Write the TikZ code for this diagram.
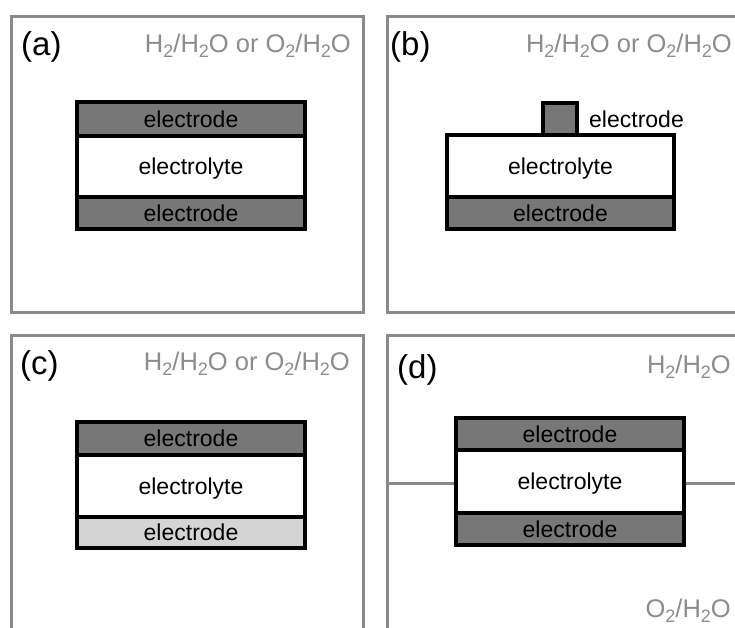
\documentclass[tikz,border=0pt]{standalone}
\usepackage{fontspec}
\setmainfont{Liberation Sans}
\definecolor{panelgray}{HTML}{8A8A8A}
\definecolor{gasgray}{HTML}{8C8C8C}
\definecolor{darkel}{HTML}{777777}
\definecolor{lightel}{HTML}{D4D4D4}
\newcommand{\gsub}[1]{\raisebox{-5pt}{\fontsize{18}{18}\selectfont #1}}
\begin{document}
\begin{tikzpicture}[x=1pt,y=-1pt,
  panel/.style={draw=panelgray, line width=3pt},
  layer/.style={draw=black, line width=3.4pt, inner sep=0pt,
    font=\fontsize{23}{25}\selectfont, text=black,
    text height=16.5pt, text depth=0pt, minimum width=228pt},
  darklayer/.style={layer, fill=darkel},
  lightlayer/.style={layer, fill=lightel},
  elytelayer/.style={layer, fill=white},
  tag/.style={font=\fontsize{33}{35}\selectfont, anchor=base west, inner sep=0pt},
  gas/.style={font=\fontsize{25.5}{27}\selectfont, text=gasgray, anchor=base east, inner sep=0pt},
  plainlabel/.style={font=\fontsize{23}{25}\selectfont, anchor=west, inner sep=0pt, text height=16.5pt, text depth=0pt}
]
\useasboundingbox (0,0) rectangle (735,627);
\clip (0,0) rectangle (735,627);
\fill[white] (0,0) rectangle (735,627);

% panel frames
\draw[panel] (11,16) rectangle (363,312);
\draw[panel] (387,16) rectangle (745,312);
\draw[panel] (11,335) rectangle (363,640);
\draw[panel] (387,335) rectangle (745,640);

% (a)
\node[tag] (ta) at (21,55) {(a)};
\node[gas] (ga) at (351,52) {H\gsub{2}/H\gsub{2}O or O\gsub{2}/H\gsub{2}O};
\node[elytelayer, minimum height=61pt] (a2) at (191,166.5) {electrolyte};
\node[darklayer, minimum height=34pt] (a1) at (191,119) {electrode};
\node[darklayer, minimum height=32pt] (a3) at (191,213) {electrode};

% (b)
\node[tag] (tb) at (390,55) {(b)};
\node[gas] (gb) at (732,52) {H\gsub{2}/H\gsub{2}O or O\gsub{2}/H\gsub{2}O};
\node[elytelayer, minimum width=227pt, minimum height=62pt] (b2) at (560.5,166) {electrolyte};
\node[darklayer, minimum width=227pt, minimum height=32pt] (b3) at (560.5,213) {electrode};
\node[darklayer, minimum width=34pt, minimum height=32pt] (b1) at (560,119) {};
\node[plainlabel] (bl) at (589,119) {electrode};

% (c)
\node[tag] (tc) at (20,374) {(c)};
\node[gas] (gc) at (350,370) {H\gsub{2}/H\gsub{2}O or O\gsub{2}/H\gsub{2}O};
\node[elytelayer, minimum height=62pt] (c2) at (191,486) {electrolyte};
\node[darklayer, minimum height=33pt] (c1) at (191,438.5) {electrode};
\node[lightlayer, minimum height=31pt] (c3) at (191,532.5) {electrode};

% (d)
\node[tag] (td) at (397,378) {(d)};
\node[gas] (gd1) at (731,373) {H\gsub{2}/H\gsub{2}O};
\node[gas] (gd2) at (731,617) {O\gsub{2}/H\gsub{2}O};
\coordinate (dl) at (387,483);
\coordinate (dr) at (745,483);
\node[elytelayer, minimum height=63pt] (d2) at (570,481.5) {electrolyte};
\node[darklayer, minimum height=32pt] (d1) at (570,434) {electrode};
\node[darklayer, minimum height=32pt] (d3) at (570,529) {electrode};
\draw[panel] (dl) -- (dl -| d2.west);
\draw[panel] (dr -| d2.east) -- (dr);
\end{tikzpicture}
\end{document}
